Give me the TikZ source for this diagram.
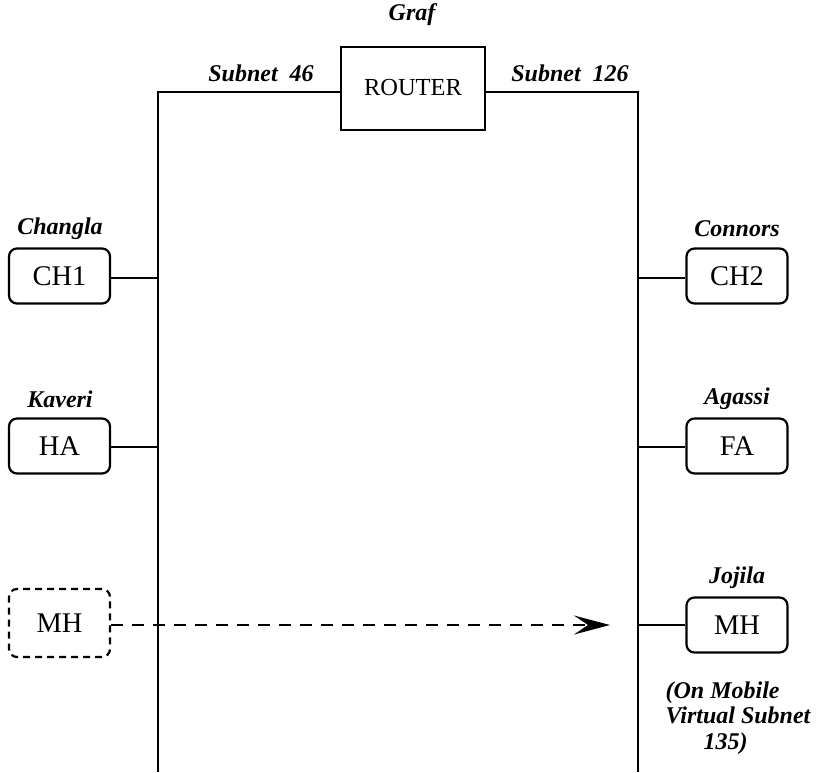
\documentclass[tikz,border=0pt]{standalone}
\usepackage{fontspec}
\setmainfont{Liberation Serif}
\usetikzlibrary{arrows.meta}
\begin{document}
\begin{tikzpicture}[x=1pt,y=-1pt,
  host/.style={draw,line width=2.2pt,rounded corners=8pt,minimum width=101pt,minimum height=55pt,inner sep=0pt,font=\fontsize{28.5}{31}\selectfont},
  lbl/.style={font=\fontsize{24}{27}\selectfont\bfseries\itshape,inner sep=0pt},
  wire/.style={line width=2.2pt}]
\useasboundingbox (0,0) rectangle (818,772);
\node[draw,line width=2pt,minimum width=144pt,minimum height=83pt,inner sep=0pt,font=\fontsize{24.5}{27}\selectfont] (router) at (413,88) {ROUTER};
\node[lbl] (graf) at (412,15) {Graf};
\node[lbl] (s46) at (261,73) {Subnet\ \ 46};
\node[lbl] (s126) at (570,73) {Subnet\ \ 126};
\coordinate (lt) at (158,92);
\coordinate (rt) at (638,92);
\coordinate (lb) at (158,772);
\coordinate (rb) at (638,772);
\draw[wire] (router.west |- lt) -- (lt) -- (lb);
\draw[wire] (router.east |- rt) -- (rt) -- (rb);
% left hosts
\node[host] (ch1) at (59.5,276) {CH1};
\node[lbl] at (60,229) {Changla};
\node[host] (ha) at (59.5,446) {HA};
\node[lbl] at (60,399) {Kaveri};
\node[host,dashed,dash pattern=on 7pt off 5pt,minimum height=68pt] (mhold) at (59.5,623) {MH};
\coordinate (l1) at (158,278);
\coordinate (l2) at (158,447);
\draw[wire] (ch1.east |- l1) -- (l1);
\draw[wire] (ha.east |- l2) -- (l2);
% right hosts
\node[host] (ch2) at (737,276) {CH2};
\node[lbl] at (737,229) {Connors};
\node[host] (fa) at (737,446) {FA};
\node[lbl] at (737,399) {Agassi};
\node[host] (mh) at (737,625) {MH};
\node[lbl] at (737,578) {Jojila};
\coordinate (r1) at (638,278);
\coordinate (r2) at (638,447);
\coordinate (r3) at (638,625);
\draw[wire] (r1) -- (ch2.west |- r1);
\draw[wire] (r2) -- (fa.west |- r2);
\draw[wire] (r3) -- (mh.west |- r3);
\coordinate (arrend) at (610,625);
\draw[line width=2pt,dash pattern=on 12pt off 9pt,-{Stealth[length=36pt,width=19pt,inset=14pt]}] (mhold.east |- arrend) -- (arrend);
\node[lbl,align=left,font=\fontsize{24}{25.5}\selectfont\bfseries\itshape] (note) at (738,718) {(On Mobile\\Virtual Subnet\\\hspace*{38pt}135)};
\end{tikzpicture}
\end{document}
